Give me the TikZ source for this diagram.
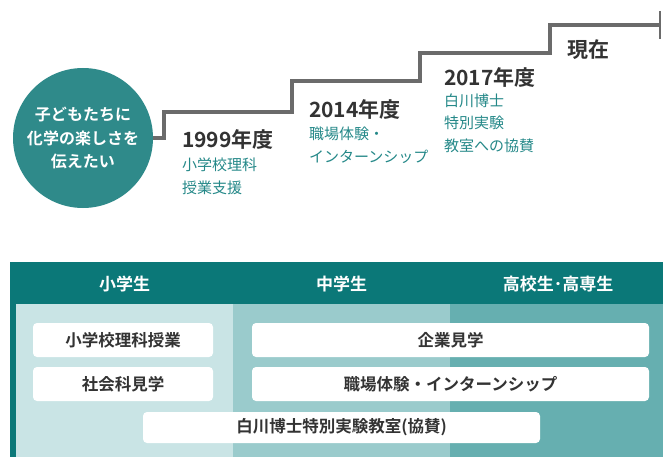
\documentclass[tikz,border=0pt]{standalone}
\usepackage{fontspec}
\setmainfont{Noto Sans CJK JP}[BoldFont={Noto Sans CJK JP Bold}]
\usetikzlibrary{arrows.meta}
\definecolor{circ}{HTML}{2F8A8A}
\definecolor{hdr}{HTML}{0B7878}
\definecolor{colA}{HTML}{C9E4E5}
\definecolor{colB}{HTML}{9ACBCC}
\definecolor{colC}{HTML}{66AFB0}
\definecolor{stairgray}{HTML}{6B6B6B}
\definecolor{subteal}{HTML}{248888}
\definecolor{darktext}{HTML}{333333}
\begin{document}
\begin{tikzpicture}[x=1pt,y=-1pt,
  goalcirc/.style={circle, fill=circ, minimum size=140pt, inner sep=0pt, align=center,
    text=white, font=\bfseries\fontsize{16}{23.5}\selectfont},
  stair/.style={draw=stairgray, line width=3.2pt, line join=miter,
    -{Bar[width=28pt, line width=2.4pt]}},
  yeartext/.style={anchor=west, inner sep=0pt, text=darktext,
    font=\bfseries\fontsize{21}{24}\selectfont},
  subtext/.style={anchor=west, inner sep=0pt, text=subteal,
    font=\fontsize{15}{18}\selectfont},
  hdrtext/.style={text=white, inner sep=0pt, font=\bfseries\fontsize{17}{20}\selectfont},
  itembox/.style={fill=white, rounded corners=4pt, inner sep=0pt, minimum height=34pt,
    text=darktext, font=\bfseries\fontsize{16.5}{20}\selectfont}
]
\useasboundingbox (0,0) rectangle (663,457);

% timeline
\node[goalcirc] (goal) at (83,138) {子どもたちに\\化学の楽しさを\\伝えたい};
\coordinate (r1) at (164,112);
\coordinate (r2) at (292,81);
\coordinate (r3) at (420,53);
\coordinate (r4) at (550,25);
\coordinate (tipend) at (661,25);
\draw[stair] (goal.east) -| (r1) -| (r2) -| (r3) -| (r4) -- (tipend);

\node[yeartext] (y1999) at (182,140) {1999年度};
\node[subtext] (s1999a) at (182,165) {小学校理科};
\node[subtext] (s1999b) at (182,188) {授業支援};

\node[yeartext] (y2014) at (309,110) {2014年度};
\node[subtext] (s2014a) at (309,134) {職場体験・};
\node[subtext] (s2014b) at (309,157) {インターンシップ};

\node[yeartext] (y2017) at (444,78) {2017年度};
\node[subtext] (s2017a) at (444,101) {白川博士};
\node[subtext] (s2017b) at (444,123) {特別実験};
\node[subtext] (s2017c) at (444,146) {教室への協賛};

\node[yeartext] (now) at (567,50) {現在};

% table
\fill[hdr] (10,262) rectangle (663,457);
\fill[colA] (16,304) rectangle (233,457);
\fill[colB] (233,304) rectangle (450,457);
\fill[colC] (450,304) rectangle (663,457);

\node[hdrtext] (h1) at (124.5,284) {小学生};
\node[hdrtext] (h2) at (341.5,284) {中学生};
\node[hdrtext] (h3) at (558,284) {高校生･高専生};

\node[itembox, minimum width=180pt] (b1) at (123,340) {小学校理科授業};
\node[itembox, minimum width=180pt] (b2) at (123,384) {社会科見学};
\node[itembox, minimum width=397pt] (b3) at (450.5,340) {企業見学};
\node[itembox, minimum width=397pt] (b4) at (450.5,384) {職場体験・インターンシップ};
\node[itembox, minimum width=397pt, minimum height=31pt] (b5) at (341.5,427.5) {白川博士特別実験教室(協賛)};
\end{tikzpicture}
\end{document}
